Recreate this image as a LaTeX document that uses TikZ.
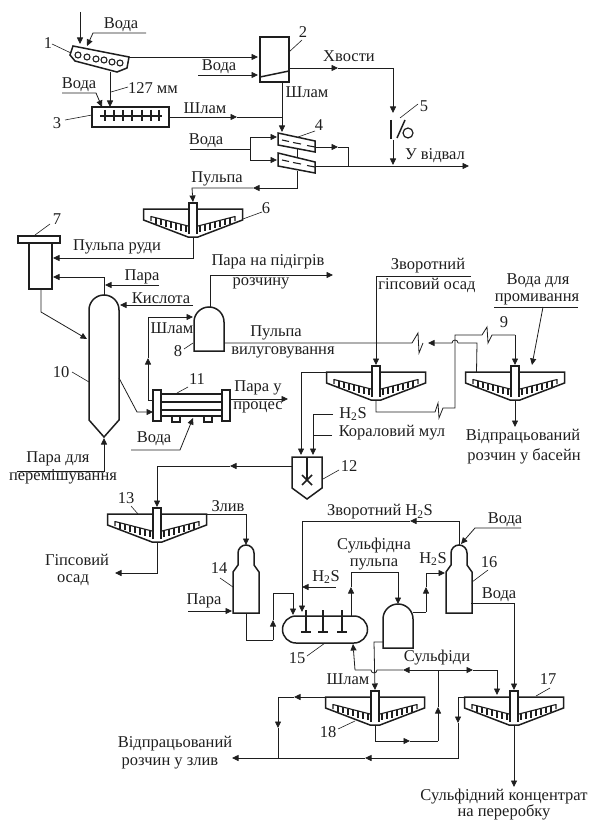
\documentclass[tikz,border=0pt]{standalone}
\usepackage{fontspec}
\setmainfont{Liberation Serif}
\usetikzlibrary{arrows.meta}
\definecolor{ink}{HTML}{1E1E1E}
\tikzset{
  every node/.style={inner sep=0pt,outer sep=0pt},
  lbl/.style={font=\fontsize{16.5}{17}\selectfont,text=ink,anchor=center},
  conn/.style={draw=ink,line width=0.8pt,line join=miter},
  flow/.style={conn,-{Triangle[length=6.5pt,width=6pt]}},
  lead/.style={draw=ink,line width=0.6pt},
  unit/.style={draw=ink,line width=1.5pt,line join=miter},
  pics/thickener/.style={code={
    \coordinate (-top) at (0,-7);
    \coordinate (-bot) at (0,28);
    \coordinate (-l) at (-49.5,0);
    \coordinate (-r) at (49.5,0);
    \path[unit,fill=white] (-49.5,0) -- (49.5,0) -- (49.5,11) -- (5,28) -- (-5,28) -- (-49.5,11) -- cycle;
    \foreach \s in {1,-1}{
      \begin{scope}[xscale=\s]
        \draw[draw=ink,line width=1.1pt] (-42,7) -- (-42,12) (-42,7.5) -- (-5,17);
        \foreach \x/\a/\b in {-37/9/14.5,-32/10/16,-27/11.5/17.5,-22/12.5/19,-17/14/20.5,-12/15/22,-7/16.5/23}
          \draw[draw=ink,line width=1.2pt] (\x,\a) -- (\x,\b);
      \end{scope}}
    \path[draw=ink,line width=1.2pt,fill=white] (-4,25) -- (-4,-6) -- (4,-6) -- (4,25);
  }},
  pics/domevessel/.style={code={
    \coordinate (-peak) at (0,-15);
    \path[unit] (-15,29) -- (-15,0) arc[start angle=180,end angle=360,radius=15] -- (15,29) -- cycle;
  }},
  pics/necked/.style={code={
    \coordinate (-peak) at (0,0);
    \path[unit] (-13,68) -- (-13,27) -- (-8,20) -- (-8,8) arc[start angle=180,end angle=360,radius=8] -- (8,20) -- (13,27) -- (13,68) -- cycle;
  }},
}
\begin{document}
\begin{tikzpicture}[x=1pt,y=-1pt]
\useasboundingbox (0,0) rectangle (590,821);
% ---------- coordinates
\coordinate (feed) at (80,12);
\coordinate (s1top) at (80,44);
\coordinate (s1w) at (87,46);
\coordinate (w1a) at (146,33);
\coordinate (w1b) at (93,33);
\coordinate (s1r) at (129,57);
\coordinate (s1b) at (110,72);
\coordinate (b2in) at (258,57);
\coordinate (b2w) at (258,75);
\coordinate (w2) at (198,75);
\coordinate (b2r) at (289,68);
\coordinate (b2b) at (282,82);
\coordinate (hm) at (338,68);
\coordinate (hc) at (393,68);
\coordinate (i5) at (393,113);
\coordinate (o5) at (393,140);
\coordinate (d5) at (393,165);
\coordinate (b3t) at (110,107);
\coordinate (w3a) at (62,93);
\coordinate (w3b) at (96,93);
\coordinate (b3w) at (102,107);
\coordinate (b3r) at (169,117);
\coordinate (sm) at (237,117);
\coordinate (sj) at (282,117);
\coordinate (i4) at (282,132);
\coordinate (w4a) at (190,149);
\coordinate (w4b) at (250,149);
\coordinate (i4a) at (277,137);
\coordinate (i4b) at (277,160);
\coordinate (o4a) at (315,147);
\coordinate (o4am) at (338,147);
\coordinate (o4ac) at (348,147);
\coordinate (o4b) at (315,166);
\coordinate (j4) at (348,166);
\coordinate (dump) at (469,166);
\coordinate (l4a) at (297,148);
\coordinate (l4b) at (297,157);
\coordinate (o4c) at (297,171);
\coordinate (pm) at (253,188);
\coordinate (pc) at (192,188);
\coordinate (o7) at (41,289);
\coordinate (o7c) at (41,312);
\coordinate (i10) at (87,339);
\coordinate (i7a) at (53,258);
\coordinate (i7b) at (53,277);
\coordinate (t10) at (104,295);
\coordinate (parA) at (159,285);
\coordinate (parB) at (105,285);
\coordinate (kisA) at (193,305);
\coordinate (kisB) at (120,305);
\coordinate (c10a) at (119,378);
\coordinate (c10b) at (137,412);
\coordinate (i11) at (153,412);
\coordinate (b10) at (104,438);
\coordinate (sp10) at (17,471);
\coordinate (o11) at (230,399);
\coordinate (o11e) at (288,399);
\coordinate (v11a) at (131,450);
\coordinate (v11b) at (180,450);
\coordinate (v11c) at (193,418);
\coordinate (s11) at (153,400);
\coordinate (s11c) at (148,400);
\coordinate (s11m) at (148,358);
\coordinate (i8) at (193,317);
\coordinate (t8) at (210,307);
\coordinate (st8) at (333,275);
\coordinate (o8) at (224,343);
\coordinate (z8) at (412,343);
\coordinate (tip8) at (428,343);
\coordinate (hopR) at (458,343);
\coordinate (cL) at (477,343);
\coordinate (cH) at (455,408);
\coordinate (cT) at (455,335);
\coordinate (cZ) at (482,335);
\coordinate (cD) at (515,335);
\coordinate (z2) at (435,412);
\coordinate (g1) at (471,276);
\coordinate (ovm) at (301,372);
\coordinate (i12a) at (301,455);
\coordinate (h2a) at (333,414);
\coordinate (h2b) at (313,414);
\coordinate (km) at (332,435);
\coordinate (kmj) at (313,435);
\coordinate (i12b) at (313,455);
\coordinate (w9a) at (543,307);
\coordinate (w9b) at (532,365);
\coordinate (o9) at (515,427);
\coordinate (o12) at (292,466);
\coordinate (o12m) at (230,466);
\coordinate (o12c) at (157,466);
\coordinate (zl) at (246,514);
\coordinate (o13) at (157,573);
\coordinate (o13e) at (115,573);
\coordinate (par14) at (188,611);
\coordinate (i14) at (232,611);
\coordinate (b14) at (246,613);
\coordinate (b14c) at (246,640);
\coordinate (b14d) at (273,640);
\coordinate (b14m) at (273,620);
\coordinate (b14u) at (273,593);
\coordinate (i15a) at (293,593);
\coordinate (i15ae) at (293,615);
\coordinate (h16c) at (459,521);
\coordinate (h16m) at (410,521);
\coordinate (h16l) at (302,521);
\coordinate (i15b) at (302,612);
\coordinate (h3) at (336,587);
\coordinate (h3e) at (302,587);
\coordinate (t15) at (351,616);
\coordinate (t15m) at (351,587);
\coordinate (t15c) at (351,572);
\coordinate (ps) at (398,572);
\coordinate (ve) at (398,604);
\coordinate (vr) at (413,612);
\coordinate (vc) at (426,612);
\coordinate (vm) at (426,587);
\coordinate (vu) at (426,573);
\coordinate (i16) at (445,573);
\coordinate (w16a) at (521,528);
\coordinate (w16b) at (475,528);
\coordinate (w16c) at (461,544);
\coordinate (o16) at (471,603);
\coordinate (o16c) at (514,603);
\coordinate (vl) at (383,642);
\coordinate (vlc) at (374,642);
\coordinate (s0) at (438,670);
\coordinate (sl) at (403,670);
\coordinate (hp) at (377,670);
\coordinate (sb) at (355,670);
\coordinate (r15) at (353,644);
\coordinate (sr) at (473,670);
\coordinate (srr) at (497,670);
\coordinate (i17) at (497,695);
\coordinate (s0d) at (438,741);
\coordinate (s0m) at (438,707);
\coordinate (m18) at (410,741);
\coordinate (c18) at (375,741);
\coordinate (l17) at (458,697);
\coordinate (l17m) at (458,723);
\coordinate (l17d) at (458,758);
\coordinate (lm) at (365,758);
\coordinate (lj) at (278,758);
\coordinate (spent) at (232,758);
\coordinate (l18m) at (294,697);
\coordinate (l18c) at (278,697);
\coordinate (l18d) at (278,728);
\coordinate (o17) at (514,787);
\coordinate (w8a) at (494,307);
\coordinate (w8b) at (578,307);
% ---------- units
% 1
\path[unit] (73,46) -- (129,57) -- (127,68) -- (117,72) -- (75,61) -- (70,55) -- cycle;
\foreach \p in {(78,55),(87,57),(96,59),(104,60),(112,62),(120,63)}
  \draw[draw=ink,line width=1.1pt] \p circle[radius=3];
% 2
\path[unit] (260,37) rectangle (289,82);
\path[unit] (260,77) -- (289,71);
% 3
\path[unit] (92,107) rectangle (169,127);
\path[unit] (100,116) -- (162,116);
\foreach \x in {105,114,123,132,142,151,159}
  \draw[draw=ink,line width=1.1pt] (\x,110) -- (\x,121);
% 4
\path[unit] (278,133) -- (315,141) -- (315,152) -- (278,145) -- cycle;
\path[unit] (278,153) -- (315,162) -- (315,173) -- (278,166) -- cycle;
\draw[draw=ink,line width=1.1pt] (282,140) -- (289,141.5) (293,142.5) -- (301,144) (307,145.5) -- (315,147);
\draw[draw=ink,line width=1.1pt] (282,160) -- (289,161.5) (293,162.5) -- (301,164) (307,165.5) -- (315,167);
% 5
\path[unit] (391,120) -- (391,139);
\path[unit] (397,138) -- (405,120);
\draw[draw=ink,line width=1.2pt] (408,133) circle[radius=5];
% thickeners
\pic (t6) at (193,209) {thickener};
\pic (tm) at (376,372) {thickener};
\pic (t9) at (515,372) {thickener};
\pic (t13) at (157,514) {thickener};
\pic (t17) at (514,697) {thickener};
\pic (t18) at (375,697) {thickener};
% 7
\path[unit] (18,236) rectangle (60,243);
\path[unit] (29,243) rectangle (52,289);
% 10
\path[unit] (89,420) -- (89,310) arc[start angle=180,end angle=360,radius=15] -- (119,420) -- (104,437) -- cycle;
% 8 and lower vessel
\pic (v8) at (209,322) {domevessel};
\pic (vs) at (398,619) {domevessel};
% 11
\path[unit] (153,390) rectangle (161,421);
\path[unit] (222,390) rectangle (230,421);
\path[unit] (161,394) -- (222,394) (161,402) -- (222,402) (161,410) -- (222,410) (161,416) -- (222,416);
\path[unit] (172,416) -- (172,422) -- (180,422) -- (180,416);
\path[unit] (204,416) -- (204,422) -- (212,422) -- (212,416);
% 12
\path[unit] (292,457) -- (322,457) -- (322,488) -- (307,499) -- (292,488) -- cycle;
\path[unit] (307,457) -- (307,480);
\path[unit] (302,475) -- (312,485) (302,485) -- (312,475);
% 14, 16
\pic (v14) at (246,545) {necked};
\pic (v16) at (459,545) {necked};
% 15
\path[unit] (296,616) -- (354,616) arc[start angle=-90,end angle=90,radius=13.5] -- (296,643) arc[start angle=90,end angle=270,radius=13.5] -- cycle;
\foreach \x in {306,323,342}{
  \path[unit] (\x,610) -- (\x,632) (\x-5,632) -- (\x+5,632);}
% ---------- connectors
\draw[flow] (feed) -- (s1top);
\draw[flow] (w1a) -- (w1b) -- (s1w);
\draw[flow] (s1r) -- (b2in);
\draw[flow] (w2) -- (b2w);
\draw[flow] (b2r) -- (hm);
\draw[conn] (hm) -- (hc);
\draw[flow] (hc) -- (i5);
\draw[flow] (o5) -- (d5);
\draw[flow] (s1b) -- (b3t);
\draw[flow] (w3a) -- (w3b) -- (b3w);
\draw[flow] (b3r) -- (sm);
\draw[conn] (sm) -- (sj);
\draw[flow] (b2b) -- (i4);
\draw[conn] (w4a) -- (w4b);
\draw[flow] (w4b) |- (i4a);
\draw[flow] (w4b) |- (i4b);
\draw[flow] (o4a) -- (o4am);
\draw[conn] (o4am) -- (o4ac) -- (j4);
\draw[flow] (o4b) -- (dump);
\draw[conn] (l4a) -- (l4b);
\draw[flow] (o4c) |- (pm);
\draw[flow] (pm) -- (pc) -- (t6-top);
\draw[flow] (t6-bot) |- (i7a);
\draw[flow] (t10) |- (i7b);
\draw[flow] (o7) -- (o7c) -- (i10);
\draw[flow] (parA) -- (parB);
\draw[flow] (kisA) -- (kisB);
\draw[flow] (c10a) -- (c10b) -- (i11);
\draw[flow] (sp10) -| (b10);
\draw[flow] (o11) -- (o11e);
\draw[flow] (v11a) -- (v11b) -- (v11c);
\draw[flow] (s11) -- (s11c) -- (s11m);
\draw[flow] (s11m) |- (i8);
\draw[flow] (t8) |- (st8);
\draw[conn] (o8) -- (z8) -- ++(6,-10) -- ++(1,20) -- ++(4,-10);
\draw[flow] (hopR) arc[start angle=0,end angle=-180,radius=3] -- (tip8);
\draw[conn] (t9-l) ++(11,0) coordinate (t9o) -- (cL) -- (hopR);
\draw[conn] (tm-bot) |- (z2) -- ++(3,-9) -- ++(1,15) -- ++(4,-10) -- (cH) -- (cT) -- (cZ) -- ++(5,-8) -- ++(1,16) -- ++(4,-8) -- (cD);
\draw[flow] (cD) -- (t9-top);
\draw[flow] (g1) -| (tm-top);
\draw[flow] (tm-l) -| (i12a);
\draw[flow] (h2a) -- (h2b) -- (i12b);
\draw[conn] (km) -- (kmj);
\draw[flow] (w9a) -- (w9b);
\draw[conn] (w8a) -- (w8b);
\draw[flow] (t9-bot) -- (o9);
\draw[flow] (o12) -- (o12m);
\draw[flow] (o12m) -- (o12c) -- (t13-top);
\draw[flow] (t13-r) -- (zl) -- (v14-peak);
\draw[flow] (t13-bot) |- (o13e);
\draw[flow] (par14) -- (i14);
\draw[conn] (b14) -- (b14c) -- (b14d);
\draw[flow] (b14d) -- (b14m);
\draw[conn] (b14m) -- (b14u);
\draw[flow] (b14u) -- (i15a) -- (i15ae);
\draw[flow] (v16-peak) |- (h16m);
\draw[flow] (h16m) -- (h16l) -- (i15b);
\draw[flow] (h3) -- (h3e);
\draw[flow] (t15) -- (t15m);
\draw[flow] (t15m) -- (t15c) -- (ps) -- (ve);
\draw[conn] (vr) -- (vc);
\draw[flow] (vc) -- (vm);
\draw[flow] (vm) -- (vu) -- (i16);
\draw[flow] (w16a) -- (w16b) -- (w16c);
\draw[flow] (o16) -- (o16c) -- (t17-top);
\draw[flow] (vl) -- (vlc) -- (t18-top);
\draw[flow] (s0) -- (sl);
\draw[conn] (sl) -- (hp) arc[start angle=0,end angle=180,radius=3] -- (sb);
\draw[flow] (sb) -- (r15);
\draw[flow] (s0) -- (sr);
\draw[flow] (sr) -- (srr) -- (i17);
\draw[flow] (s0d) -- (s0m);
\draw[conn] (s0m) -- (s0);
\draw[flow] (t18-bot) |- (m18);
\draw[conn] (m18) -- (s0d);
\draw[conn] (t17-l) -- (l17);
\draw[flow] (l17) -- (l17m);
\draw[flow] (l17m) -- (l17d) -- (lm);
\draw[flow] (lm) -- (spent);
\draw[flow] (t18-l) -- (l18m);
\draw[conn] (l18m) -- (l18c);
\draw[flow] (l18c) -- (l18d);
\draw[conn] (l18d) -- (lj);
\draw[flow] (t17-bot) -- (o17);
% ---------- leaders
\draw[lead] (52,44) -- (71,53);
\draw[lead] (65,120) -- (92,115);
\draw[lead] (111,92) -- (128,87);
\draw[lead] (289,52) -- (302,40);
\draw[lead] (298,137) -- (315,131);
\draw[lead] (400,118) -- (418,104);
\draw[lead] (243,219) -- (262,212);
\draw[lead] (35,235) -- (50,224);
\draw[lead] (72,372) -- (89,382);
\draw[lead] (184,349) -- (193,343);
\draw[lead] (177,393) -- (188,387);
\draw[lead] (323,479) -- (339,470);
\draw[lead] (131,506) -- (138,514);
\draw[lead] (220,578) -- (233,587);
\draw[lead] (307,656) -- (325,643);
\draw[lead] (472,582) -- (488,570);
\draw[lead] (536,696) -- (550,688);
\draw[lead] (338,729) -- (355,721);
% ---------- texts
\node[lbl] (n1) at (48,43) {1};
\node[lbl] (n2) at (303,32) {2};
\node[lbl] (n3) at (57,123) {3};
\node[lbl] (n4) at (319,125) {4};
\node[lbl] (n5) at (424,106) {5};
\node[lbl] (n6) at (266,208) {6};
\node[lbl] (n7) at (57,219) {7};
\node[lbl] (n8) at (178,351) {8};
\node[lbl] (n9) at (504,322) {9};
\node[lbl] (n10) at (61,372) {10};
\node[lbl] (n11) at (197,379) {11};
\node[lbl] (n12) at (349,466) {12};
\node[lbl] (n13) at (126,498) {13};
\node[lbl] (n14) at (219,568) {14};
\node[lbl] (n15) at (297,658) {15};
\node[lbl] (n16) at (489,562) {16};
\node[lbl] (n17) at (548,679) {17};
\node[lbl] (n18) at (328,732) {18};
\node[lbl] (a1) at (121,25) {Вода};
\node[lbl] (a2) at (219,67) {Вода};
\node[lbl] (a3) at (79,85) {Вода};
\node[lbl] (a4) at (206,141) {Вода};
\node[lbl] (a5) at (153,88) {127 мм};
\node[lbl] (a6) at (205,108) {Шлам};
\node[lbl] (a7) at (349,56) {Хвости};
\node[lbl] (a8) at (307,92) {Шлам};
\node[lbl] (a9) at (435,156) {У відвал};
\node[lbl] (a10) at (217,179) {Пульпа};
\node[lbl] (a11) at (117,247) {Пульпа руди};
\node[lbl] (a12) at (142,277) {Пара};
\node[lbl] (a13) at (161,298) {Кислота};
\node[lbl] (a14) at (268,262) {Пара на підігрів};
\node[lbl] (a15) at (261,283) {розчину};
\node[lbl] (a16) at (172,328) {Шлам};
\node[lbl] (a17) at (276,333) {Пульпа};
\node[lbl] (a18) at (283,352) {вилуговування};
\node[lbl] (a19) at (258,388) {Пара у};
\node[lbl] (a20) at (258,407) {процес};
\node[lbl] (a21) at (154,439) {Вода};
\node[lbl] (a22) at (58,459) {Пара для};
\node[lbl] (a23) at (63,477) {перемішування};
\node[lbl] (a24) at (428,266) {Зворотний};
\node[lbl] (a25) at (427,285) {гіпсовий осад};
\node[lbl] (a26) at (538,281) {Вода для};
\node[lbl] (a27) at (537,299) {промивання};
\node[lbl] (a28) at (353,414) {H\textsubscript{2}S};
\node[lbl] (a29) at (392,433) {Кораловий мул};
\node[lbl] (a30) at (523,437) {Відпрацьований};
\node[lbl] (a31) at (524,456) {розчин у басейн};
\node[lbl] (a32) at (228,506) {Злив};
\node[lbl] (a33) at (77,560) {Гіпсовий};
\node[lbl] (a34) at (73,580) {осад};
\node[lbl] (a35) at (204,601) {Пара};
\node[lbl] (a36) at (380,512) {Зворотний H\textsubscript{2}S};
\node[lbl] (a37) at (326,577) {H\textsubscript{2}S};
\node[lbl] (a38) at (374,546) {Сульфідна};
\node[lbl] (a39) at (374,564) {пульпа};
\node[lbl] (a40) at (433,559) {H\textsubscript{2}S};
\node[lbl] (a41) at (505,520) {Вода};
\node[lbl] (a42) at (499,595) {Вода};
\node[lbl] (a43) at (437,658) {Сульфіди};
\node[lbl] (a44) at (348,679) {Шлам};
\node[lbl] (a45) at (175,744) {Відпрацьований};
\node[lbl] (a46) at (170,763) {розчин у злив};
\node[lbl] (a47) at (504,797) {Сульфідний концентрат};
\node[lbl] (a48) at (504,812) {на переробку};
\end{tikzpicture}
\end{document}
